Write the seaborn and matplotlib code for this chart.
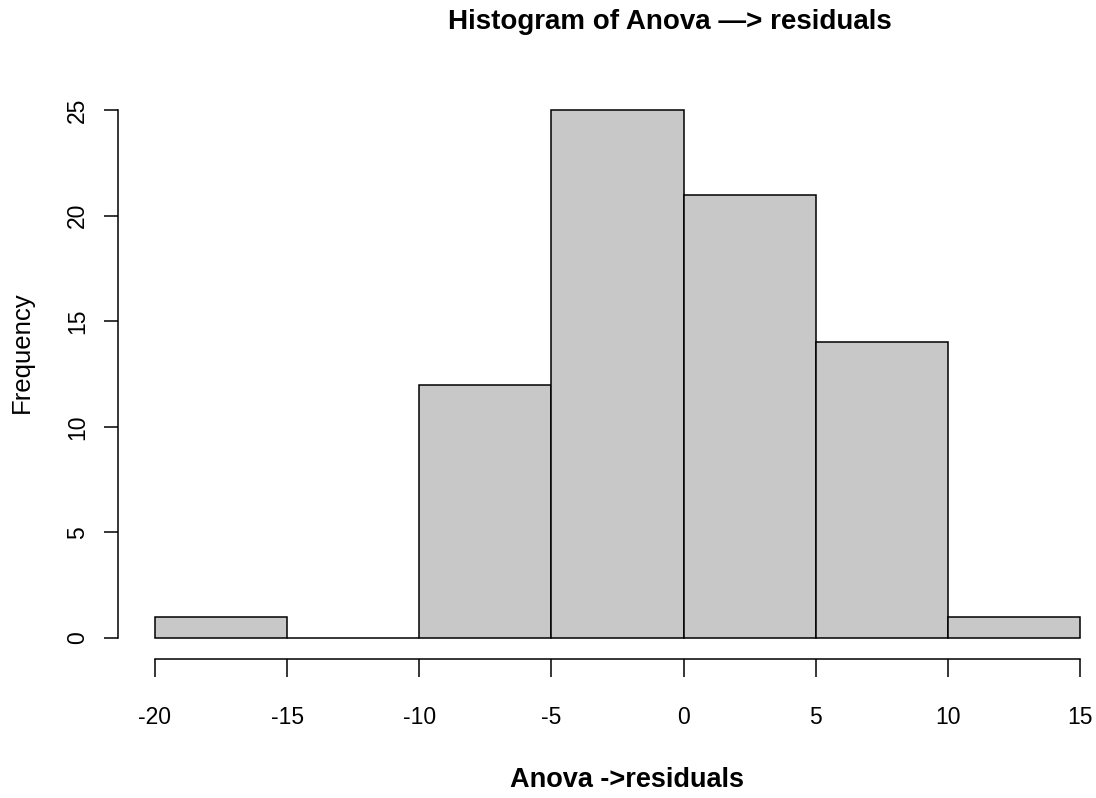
import numpy as np
import pandas as pd
import seaborn as sns
import matplotlib
matplotlib.use("Agg")
import matplotlib.pyplot as plt

# Data
bin_edges = [-20, -15, -10, -5, 0, 5, 10, 15]
counts = [1, 0, 12, 25, 21, 14, 1]
x_ticks = [-20, -15, -10, -5, 0, 5, 10, 15]
y_ticks = [0, 5, 10, 15, 20, 25]
title = "Histogram of Anova \u2014> residuals"
xlabel = "Anova ->residuals"
ylabel = "Frequency"

sns.set_style("white")
plt.rcParams['font.family'] = ['Liberation Sans', 'DejaVu Sans']
plt.rcParams['text.color'] = 'black'
plt.rcParams['axes.labelcolor'] = 'black'
plt.rcParams['xtick.color'] = 'black'
plt.rcParams['ytick.color'] = 'black'

centers = [(a + b) / 2 for a, b in zip(bin_edges[:-1], bin_edges[1:])]
df = pd.DataFrame({"residual": centers, "count": counts})

fig = plt.figure(figsize=(10.96, 7.98), dpi=100)
W, H = 1096, 798
left, right, top, bottom = 118, 1117, 89, 659
ax = fig.add_axes([left / W, (H - bottom) / H, (right - left) / W, (bottom - top) / H])

sns.histplot(data=df, x="residual", weights="count", bins=bin_edges,
             color="#C8C8C8", edgecolor="black", linewidth=1.1, alpha=1.0, ax=ax)

xr = bin_edges[-1] - bin_edges[0]
ax.set_xlim(bin_edges[0] - 0.04 * xr, bin_edges[-1] + 0.04 * xr)
ymax = max(y_ticks)
ax.set_ylim(-0.04 * ymax, ymax * 1.04)

for s in ["top", "right"]:
    ax.spines[s].set_visible(False)
for s in ["left", "bottom"]:
    ax.spines[s].set_linewidth(1.1)
    ax.spines[s].set_color("black")
ax.spines["left"].set_bounds(min(y_ticks), max(y_ticks))
ax.spines["bottom"].set_bounds(min(x_ticks), max(x_ticks))

ax.set_xticks(x_ticks)
ax.set_yticks(y_ticks)
ax.set_xticklabels([str(t) for t in x_ticks])
ax.set_yticklabels([str(t) for t in y_ticks], rotation=90, va="center")
ax.tick_params(axis="x", length=13, width=1.1, pad=21, labelsize=16.5, direction="out", bottom=True)
ax.tick_params(axis="y", length=10, width=1.1, pad=11, labelsize=16.5, direction="out", left=True)

ax.set_title(title, fontsize=20, fontweight="bold", va="center", x=0.5526, y=1.1175, pad=0)
ax.set_xlabel(xlabel, fontsize=19.5, fontweight="bold", va="center")
ax.xaxis.set_label_coords(0.5095, -0.2123)
ax.set_ylabel(ylabel, fontsize=18.5, va="center")
ax.yaxis.set_label_coords(-0.0961, 0.5386)

fig.savefig("out.png", dpi=100)
